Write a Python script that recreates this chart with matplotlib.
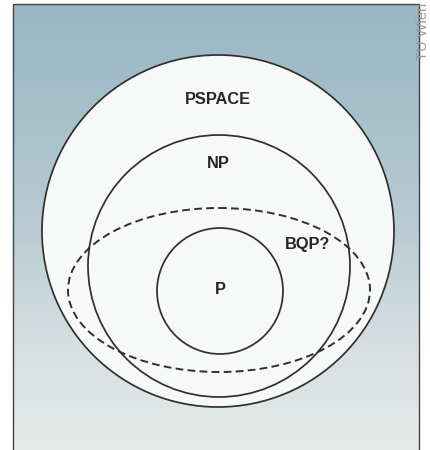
import numpy as np
import matplotlib
matplotlib.use("Agg")
import matplotlib.pyplot as plt
from matplotlib.patches import Circle, Ellipse, Rectangle
from matplotlib.colors import LinearSegmentedColormap

# Complexity classes (circles): name, center x, center y, radius
class_names = ["PSPACE", "NP", "P"]
class_cx = [218, 219, 220]
class_cy = [231, 266, 291]
class_r = [176, 131, 63]
label_x = [218, 218, 220]
label_y = [100, 163, 290]

# BQP (dashed ellipse)
bqp_name = "BQP?"
bqp_center = (219, 290)
bqp_w, bqp_h = 302, 164
bqp_label = (308, 245)

fig = plt.figure(figsize=(4.31, 4.5), dpi=100)
ax = fig.add_axes([0, 0, 1, 1])
ax.set_xlim(0, 431)
ax.set_ylim(450, 0)
ax.axis("off")

# gradient background box
box = (13, 4, 419, 470)
cmap = LinearSegmentedColormap.from_list(
    "bg", [(0.0, "#97b6c4"), (0.45, "#b6cad2"), (0.75, "#d8e0e2"), (1.0, "#eaecea")])
grad = np.linspace(0, 1, 256).reshape(-1, 1)
ax.imshow(grad, cmap=cmap, extent=[box[0], box[2], box[3], box[1]], aspect="auto",
          origin="upper", zorder=0)
ax.add_patch(Rectangle((box[0], box[1]), box[2] - box[0], box[3] - box[1],
                       fill=False, ec="#444444", lw=1.0, zorder=1))

line_col = "#2f2f2f"
for i, (cx, cy, r) in enumerate(zip(class_cx, class_cy, class_r)):
    ax.add_patch(Circle((cx, cy), r, fc="#f7f8f8" if i == 0 else "none",
                        ec=line_col, lw=1.25, zorder=2 + i))

ax.add_patch(Ellipse(bqp_center, bqp_w, bqp_h, fill=False, ec=line_col, lw=1.4,
                     ls=(0, (4, 2.2)), zorder=6))

for name, x, y in zip(class_names, label_x, label_y):
    ax.text(x, y, name, ha="center", va="center", fontsize=11.8, fontweight="bold",
            family="Liberation Sans", color="#262626", zorder=7)
ax.text(bqp_label[0], bqp_label[1], bqp_name, ha="center", va="center", fontsize=11.8,
        fontweight="bold", family="Liberation Sans", color="#262626", zorder=7)

ax.text(423, 3, "TU Wien", rotation=90, ha="center", va="top", fontsize=10.5,
        family="Liberation Sans", color="#9a9a9a", zorder=7)

fig.savefig("out.png", dpi=100)
